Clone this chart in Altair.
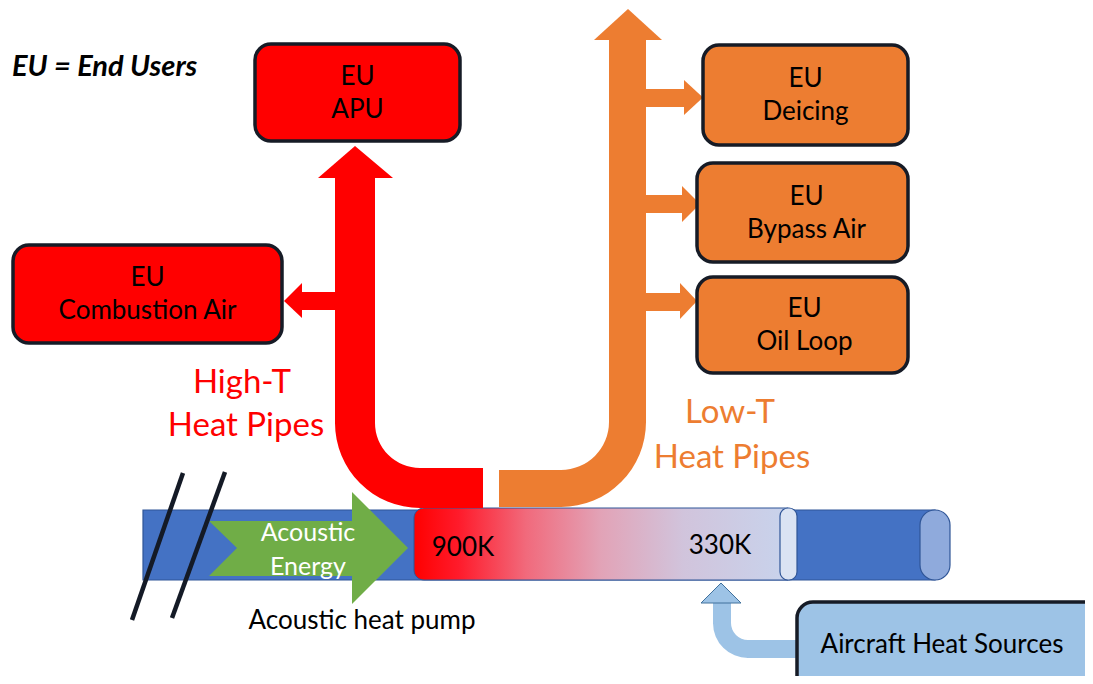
import math
import altair as alt
import pandas as pd

# ---------------- content (text) ----------------
legend_note = "EU = End Users"
high_label = ["High-T", "Heat Pipes"]
low_label = ["Low-T", "Heat Pipes"]
eu_prefix = "EU"
red_users = ["APU", "Combustion Air"]
orange_users = ["Deicing", "Bypass Air", "Oil Loop"]
temps = ["900K", "330K"]
acoustic_label = ["Acoustic", "Energy"]
pump_label = "Acoustic heat pump"
source_label = "Aircraft Heat Sources"

# ---------------- styles ----------------
RED = "#FF0000"
ORANGE = "#ED7D31"
BLUE = "#4472C4"
BLUE_DARK = "#2F5597"
BLUE_END = "#8FAADC"
GREEN = "#70AD47"
LIGHT = "#9DC3E6"
INK = "#161B26"
FONT = "Lato"

W, H = 1077, 668
xs = alt.Scale(domain=[8, 8 + W], nice=False, zero=False)
ys = alt.Scale(domain=[8, 8 + H], nice=False, zero=False, reverse=True)

# ---------------- layout geometry (diagram coordinates) ----------------
red_boxes = [(255, 460, 44, 141), (13, 282, 245, 343)]
orange_boxes = [(703, 908, 45, 145), (697, 908, 163, 262), (697, 908, 277, 373)]
box_text_dx = [0, 0, 0, 4, 2]
source_box = (797, 1110, 602, 700)


def X(f):
    return alt.X(f, type="quantitative", scale=xs, axis=None)


def Y(f, **kw):
    return alt.Y(f, type="quantitative", scale=ys, axis=None, **kw)


def rects(rows, **mark):
    df = pd.DataFrame(rows, columns=["x", "x2", "y", "y2", "c"])
    return alt.Chart(df).mark_rect(**mark).encode(
        x=X("x"), x2="x2:Q", y=Y("y"), y2="y2:Q",
        fill=alt.Fill("c:N", scale=None))


def tris_v(rows, **mark):
    # x independent; y..y2 span at each x
    df = pd.DataFrame(rows, columns=["id", "x", "y", "y2", "c"])
    return alt.Chart(df).mark_area(orient="vertical", **mark).encode(
        x=X("x"), y=Y("y", stack=None), y2="y2:Q",
        detail="id:N", fill=alt.Fill("c:N", scale=None))


def tris_h(rows, **mark):
    # y independent; x..x2 span at each y
    df = pd.DataFrame(rows, columns=["id", "y", "x", "x2", "c"])
    return alt.Chart(df).mark_area(orient="horizontal", **mark).encode(
        y=Y("y"), x=alt.X("x", type="quantitative", scale=xs, axis=None, stack=None),
        x2="x2:Q", detail="id:N", fill=alt.Fill("c:N", scale=None))


def arc(cx, cy, r_in, r_out, t0, t1, c):
    df = pd.DataFrame({"x": [cx], "y": [cy]})
    return alt.Chart(df).mark_arc(theta=t0, theta2=t1, radius=r_out, radius2=r_in,
                                  fill=c).encode(x=X("x"), y=Y("y"))


def texts(rows, **mark):
    df = pd.DataFrame(rows, columns=["x", "y", "t"])
    base = dict(font=FONT, baseline="middle", align="center")
    base.update(mark)
    return alt.Chart(df).mark_text(**base).encode(x=X("x"), y=Y("y"), text="t:N")


PI = math.pi
layers = []

# ---- main pipe ----
layers.append(rects([(143, 935, 510, 580, BLUE)], stroke=BLUE_DARK, strokeWidth=1.2))
layers.append(rects([(920, 950, 510, 580, BLUE_END)], cornerRadius=15,
                    stroke=BLUE_DARK, strokeWidth=1.2))

# ---- acoustic energy arrow ----
layers.append(rects([(209, 353, 521, 576, GREEN)]))
layers.append(tris_v([("notch", 209, 521, 576, BLUE), ("notch", 237, 548, 548, BLUE)]))
layers.append(tris_v([("head", 352, 492, 604, GREEN), ("head", 408, 548, 548, GREEN)]))

# ---- hot/cold gradient section ----
grad = alt.LinearGradient(
    gradient="linear", x1=0, x2=1, y1=0, y2=0,
    stops=[alt.GradientStop(color="#FF0000", offset=0),
           alt.GradientStop(color="#FF1B2B", offset=0.12),
           alt.GradientStop(color="#F16A7C", offset=0.3),
           alt.GradientStop(color="#E2A3B7", offset=0.5),
           alt.GradientStop(color="#D1C4DC", offset=0.72),
           alt.GradientStop(color="#C8D3EC", offset=1)])
gdf = pd.DataFrame({"x": [414], "x2": [788], "y": [508], "y2": [580]})
layers.append(alt.Chart(gdf).mark_rect(fill=grad, cornerRadiusTopLeft=10,
                                       cornerRadiusBottomLeft=10,
                                       stroke=BLUE_DARK, strokeWidth=1).encode(
    x=X("x"), x2="x2:Q", y=Y("y"), y2="y2:Q"))
layers.append(rects([(780, 797, 508, 580, "#DAE3F3")], cornerRadius=8,
                    stroke=BLUE_DARK, strokeWidth=1.2))

# ---- break marks ----
sl = pd.DataFrame({"id": ["a", "a", "b", "b"], "x": [183, 132, 225, 172],
                   "y": [473, 620, 472, 618]})
layers.append(alt.Chart(sl).mark_line(color="#141A26", strokeWidth=4.5).encode(
    x=X("x"), y=Y("y"), detail="id:N", order="y:Q"))

# ---- high-T heat pipe (red) ----
layers.append(rects([(335, 375, 176, 424, RED), (419, 483, 468, 508, RED),
                     (300, 336, 292, 310, RED)]))
layers.append(arc(420, 423, 45, 85, PI, 1.5 * PI, RED))
layers.append(tris_h([("rh", 146, 355, 355, RED), ("rh", 178, 318, 393, RED)]))
layers.append(tris_v([("rl", 284, 301, 301, RED), ("rl", 302, 283, 318, RED)]))

# ---- low-T heat pipe (orange) ----
layers.append(rects([(609, 646, 38, 423, ORANGE), (499, 562, 470, 507, ORANGE),
                     (645, 685, 89, 107, ORANGE), (645, 683, 195, 213, ORANGE),
                     (645, 681, 293, 311, ORANGE)]))
layers.append(arc(561, 422, 48, 85, 0.5 * PI, PI, ORANGE))
layers.append(tris_h([("oh", 9, 628, 628, ORANGE), ("oh", 40, 594, 662, ORANGE)]))
layers.append(tris_v([("o1", 684, 80, 115, ORANGE), ("o1", 703, 97.5, 97.5, ORANGE),
                      ("o2", 682, 186, 222, ORANGE), ("o2", 700, 204, 204, ORANGE),
                      ("o3", 680, 283, 319, ORANGE), ("o3", 697, 301, 301, ORANGE)]))

# ---- aircraft heat source arrow ----
layers.append(rects([(713, 731, 601, 624, LIGHT), (747, 800, 640, 658, LIGHT)]))
layers.append(arc(748, 623, 17, 35, PI, 1.5 * PI, LIGHT))
layers.append(tris_h([("lh", 583, 721, 721, LIGHT), ("lh", 603, 701, 741, LIGHT)],
                     stroke="#41719C", strokeWidth=1))

# ---- end-user boxes ----
box_rows = [b + (RED,) for b in red_boxes] + [b + (ORANGE,) for b in orange_boxes]
box_rows.append(source_box + (LIGHT,))
layers.append(rects(box_rows, cornerRadius=16, stroke=INK, strokeWidth=3.5))

# ---- texts ----
box_text = []
for (x0, x1, y0, y1), dx, name in zip(red_boxes + orange_boxes, box_text_dx,
                                      red_users + orange_users):
    cx = (x0 + x1) / 2 + dx
    cy = (y0 + y1) / 2
    box_text.append((cx, cy - 16, eu_prefix))
    box_text.append((cx, cy + 17, name))
box_text.append((942, 645, source_label))
box_text.append((463, 548, temps[0]))
box_text.append((720, 546, temps[1]))
box_text.append((362, 621, pump_label))
layers.append(texts(box_text, fontSize=26, color="#000000"))

layers.append(texts([(308, 533, acoustic_label[0]), (308, 567, acoustic_label[1])],
                    fontSize=25, color="#FFFFFF"))
layers.append(texts([(242, 383, high_label[0]), (246, 426, high_label[1])],
                    fontSize=33, color=RED))
layers.append(texts([(730, 413, low_label[0]), (732, 458, low_label[1])],
                    fontSize=33, color=ORANGE))
layers.append(texts([(12, 67, legend_note)], fontSize=29, fontWeight="bold",
                    fontStyle="italic", align="left", color="#000000"))

chart = alt.layer(*layers).properties(
    width=W, height=H, padding=0,
    autosize=alt.AutoSizeParams(type="none"),
    background="#FFFFFF",
).configure_view(stroke=None)

chart.save("out.html", embed_options={"renderer": "svg", "actions": False})
